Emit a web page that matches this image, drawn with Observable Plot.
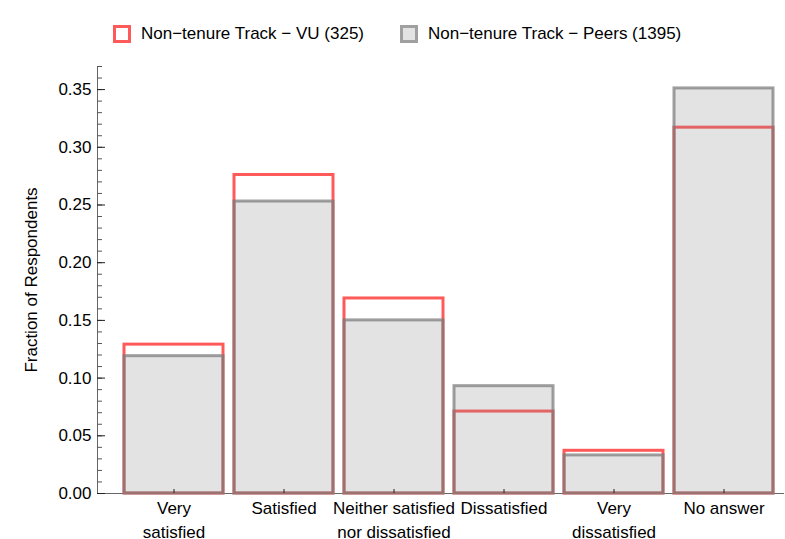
<!DOCTYPE html>
<html>
<head>
<meta charset="utf-8">
<script src="https://cdn.jsdelivr.net/npm/d3@7"></script>
<script src="https://cdn.jsdelivr.net/npm/@observablehq/plot@0.6"></script>
<style>
  html, body { margin: 0; padding: 0; background: #fff; }
  body { width: 785px; height: 539px; overflow: hidden; font-family: "Liberation Sans", Arial, sans-serif; }
  #legend { position: relative; height: 58px; font-size: 17px; color: #000; }
  .item { position: absolute; top: 25px; display: flex; align-items: center; height: 18px; white-space: nowrap; }
  .sw { width: 12px; height: 12px; border-width: 3px; border-style: solid; margin-right: 10px; }
</style>
</head>
<body>
<div id="legend"></div>
<div id="chart"></div>
<script>
const categories = ["Very\nsatisfied", "Satisfied", "Neither satisfied\nnor dissatisfied", "Dissatisfied", "Very\ndissatisfied", "No answer"];
const vuValues = [0.129, 0.276, 0.169, 0.071, 0.037, 0.317];
const peersValues = [0.119, 0.253, 0.150, 0.093, 0.033, 0.351];
const seriesNames = ["Non\u2212tenure Track \u2212 VU (325)", "Non\u2212tenure Track \u2212 Peers (1395)"];
const majorTicks = [0, 0.05, 0.10, 0.15, 0.20, 0.25, 0.30, 0.35];
const minorTicks = d3.range(0, 0.371, 0.01);

const vu = categories.map((c, i) => ({cat: c, value: vuValues[i]}));
const peers = categories.map((c, i) => ({cat: c, value: peersValues[i]}));

// legend
const legend = document.getElementById("legend");
const legendStyles = [
  {left: 113, border: "#ff5a5a", bg: "#ffffff"},
  {left: 400, border: "#a0a0a0", bg: "#e3e3e3"}
];
seriesNames.forEach((name, i) => {
  const it = document.createElement("div");
  it.className = "item";
  it.style.left = legendStyles[i].left + "px";
  const sw = document.createElement("div");
  sw.className = "sw";
  sw.style.borderColor = legendStyles[i].border;
  sw.style.background = legendStyles[i].bg;
  it.appendChild(sw);
  const t = document.createElement("span");
  t.textContent = name;
  it.appendChild(t);
  legend.appendChild(it);
});

const chart = Plot.plot({
  width: 785,
  height: 481,
  marginLeft: 97,
  marginRight: 2,
  marginTop: 8,
  marginBottom: 46,
  style: {fontFamily: "Liberation Sans, Arial, sans-serif", fontSize: "17px", color: "#000", background: "#fff"},
  x: {domain: categories, paddingInner: 0.1, paddingOuter: 0.168, align: 0.73, axis: null},
  y: {domain: [0, 0.37], axis: null},
  marks: [
    Plot.frame({anchor: "left", stroke: "#666", strokeWidth: 1}),
    Plot.frame({anchor: "bottom", stroke: "#666", strokeWidth: 1}),
    Plot.barY(vu, {x: "cat", y: "value", fill: "none", stroke: "#ff5a5a", strokeWidth: 3}),
    Plot.barY(peers, {x: "cat", y: "value", fill: "#878787", fillOpacity: 0.23, stroke: "#7a7a7a", strokeOpacity: 0.72, strokeWidth: 3}),
    Plot.axisY({ticks: minorTicks, tickSize: -5, tickFormat: () => "", label: null, stroke: "#555"}),
    Plot.axisY({ticks: majorTicks, tickSize: -8, tickFormat: () => "", label: null, stroke: "#222"}),
    Plot.axisY({ticks: majorTicks, tickSize: 0, tickPadding: 6, tickFormat: d => d.toFixed(2), label: "Fraction of Respondents", labelAnchor: "center", labelArrow: "none", labelOffset: 73, fill: "#000"}),
    Plot.axisX({tickSize: -4, tickFormat: () => "", label: null, stroke: "#222"}),
    Plot.axisX({tickSize: 0, tickPadding: 4, lineHeight: 1.4, label: null, fill: "#000"})
  ]
});
document.getElementById("chart").appendChild(chart);
</script>
</body>
</html>
